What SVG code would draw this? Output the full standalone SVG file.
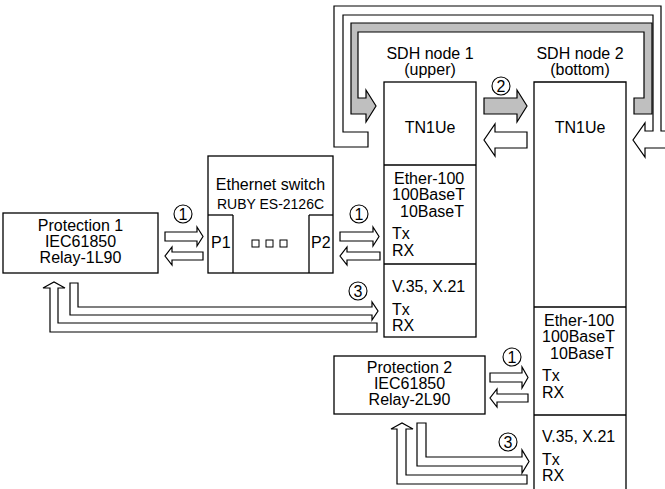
<svg xmlns="http://www.w3.org/2000/svg" width="665" height="489" viewBox="0 0 665 489">
<style>
text{font-family:"Liberation Sans",Arial,sans-serif;font-size:16px;fill:#000}
.c{text-anchor:middle}
.s{font-size:14px}
.box{fill:#fff;stroke:#000;stroke-width:1.3}
.ln{fill:none;stroke:#000;stroke-width:1.3}
.wa{fill:#fff;stroke:#000;stroke-width:1.2;stroke-linejoin:miter}
.ga{fill:#bfbfbf;stroke:#000;stroke-width:1.2}
.num{fill:#fff;stroke:#000;stroke-width:1.1}
</style>
<rect width="665" height="489" fill="#fff"/>

<g id="connectors">
  <!-- white loop (node2 side to node1 side, top) -->
  <polygon class="wa" points="700,148 645,148 645,157 633,140 645,123 645,131 653,131 653,15 343,15 343,132 368,132 368,147 334,147 334,6 661,6 661,131 700,131"/>
  <!-- grey loop arrow into node 1 -->
  <polygon class="ga" points="634,98 644,98 644,32 358,32 358,98 366,98 366,90 376,106 366,122 366,114 351,114 351,23 652,23 652,114 634,114"/>
  <!-- 2: grey arrow node1 -> node2 -->
  <polygon class="ga" points="484,98 517,98 517,90 527,106 517,122 517,114 484,114"/>
  <!-- white arrow node2 -> node1 -->
  <polygon class="wa" points="527,132 495,132 495,124 484,140 495,156 495,148 527,148"/>

  <!-- 1: Protection 1 <-> switch P1 -->
  <polygon class="wa" points="165,232 197,232 197,227 203,236.5 197,246 197,241 165,241"/>
  <polygon class="wa" points="203,252 172,252 172,247 165,256 172,265 172,260 203,260"/>
  <!-- 1: switch P2 <-> node 1 -->
  <polygon class="wa" points="340,232 373,232 373,227 379,236.5 373,246 373,241 340,241"/>
  <polygon class="wa" points="380,252 347,252 347,247 340,256 347,265 347,260 380,260"/>
  <!-- 3: Protection 1 <-> node 1 V.35 -->
  <polygon class="wa" points="70,283 78,283 78,307 372,307 372,302 378,311 372,320 372,315 70,315"/>
  <polygon class="wa" points="377,323 377,332 50,332 50,288 43,288 54,282 65,288 58,288 58,323"/>

  <!-- 1: Protection 2 <-> node 2 -->
  <polygon class="wa" points="490,373 522,373 522,367 528,377.5 522,388 522,382 490,382"/>
  <polygon class="wa" points="528,394 497,394 497,389 490,398 497,407 497,402 528,402"/>
  <!-- 3: Protection 2 <-> node 2 V.35 -->
  <polygon class="wa" points="417,423 426,423 426,457 522,457 522,450 529,461.5 522,473 522,466 417,466"/>
  <polygon class="wa" points="527,475 527,484 397,484 397,429 391,429 402,423 413,429 406,429 406,475"/>

  <!-- numbered circles -->
  <g id="labels">
    <circle class="num" cx="501" cy="86" r="9"/><text class="c" x="501" y="92">2</text>
    <circle class="num" cx="183" cy="214" r="9"/><text class="c" x="183" y="220">1</text>
    <circle class="num" cx="359" cy="214" r="9"/><text class="c" x="359" y="220">1</text>
    <circle class="num" cx="512" cy="357" r="9"/><text class="c" x="512" y="363">1</text>
    <circle class="num" cx="358" cy="291" r="9"/><text class="c" x="358" y="297">3</text>
    <circle class="num" cx="508" cy="442" r="9"/><text class="c" x="508" y="448">3</text>
  </g>
</g>

<g id="sdh1">
  <text class="c" x="430" y="59">SDH node 1</text>
  <text class="c" x="430" y="75">(upper)</text>
  <rect class="box" x="384" y="82" width="92" height="255"/>
  <line class="ln" x1="384" y1="165" x2="476" y2="165"/>
  <line class="ln" x1="384" y1="264" x2="476" y2="264"/>
  <text class="c" x="430" y="133">TN1Ue</text>
  <text x="394" y="184">Ether-100</text>
  <text x="392" y="200">100BaseT</text>
  <text x="400" y="217">10BaseT</text>
  <text x="392" y="239">Tx</text>
  <text x="392" y="256">RX</text>
  <text x="392" y="292">V.35, X.21</text>
  <text x="392" y="315">Tx</text>
  <text x="392" y="331">RX</text>
</g>

<g id="sdh2">
  <text class="c" x="580" y="59">SDH node 2</text>
  <text class="c" x="580" y="75">(bottom)</text>
  <path class="ln" d="M534,495 V82 H626 V495"/>
  <line class="ln" x1="534" y1="307" x2="626" y2="307"/>
  <line class="ln" x1="534" y1="415" x2="626" y2="415"/>
  <text class="c" x="580" y="133">TN1Ue</text>
  <text x="544" y="326">Ether-100</text>
  <text x="542" y="342">100BaseT</text>
  <text x="550" y="359">10BaseT</text>
  <text x="542" y="381">Tx</text>
  <text x="542" y="398">RX</text>
  <text x="542" y="442">V.35, X.21</text>
  <text x="542" y="465">Tx</text>
  <text x="542" y="481">RX</text>
</g>

<g id="switch">
  <rect class="box" x="208" y="156" width="125" height="117"/>
  <line class="ln" x1="208" y1="215" x2="233" y2="215"/>
  <line class="ln" x1="233" y1="215" x2="233" y2="273"/>
  <line class="ln" x1="309" y1="215" x2="333" y2="215"/>
  <line class="ln" x1="309" y1="215" x2="309" y2="273"/>
  <text class="c" x="270.5" y="190">Ethernet switch</text>
  <text class="c s" x="270.5" y="209">RUBY ES-2126C</text>
  <text x="211" y="248">P1</text>
  <text x="311" y="248">P2</text>
  <rect x="252" y="240" width="7" height="7" fill="none" stroke="#000" stroke-width="1"/>
  <rect x="266" y="240" width="7" height="7" fill="none" stroke="#000" stroke-width="1"/>
  <rect x="280" y="240" width="7" height="7" fill="none" stroke="#000" stroke-width="1"/>
</g>

<g id="prot1">
  <rect class="box" x="3" y="213" width="155" height="60"/>
  <text class="c" x="80.5" y="231">Protection 1</text>
  <text class="c" x="80.5" y="247">IEC61850</text>
  <text class="c" x="80.5" y="263">Relay-1L90</text>
</g>

<g id="prot2">
  <rect class="box" x="334" y="356" width="151" height="58"/>
  <text class="c" x="409.5" y="373">Protection 2</text>
  <text class="c" x="409.5" y="389">IEC61850</text>
  <text class="c" x="409.5" y="405">Relay-2L90</text>
</g>
</svg>
